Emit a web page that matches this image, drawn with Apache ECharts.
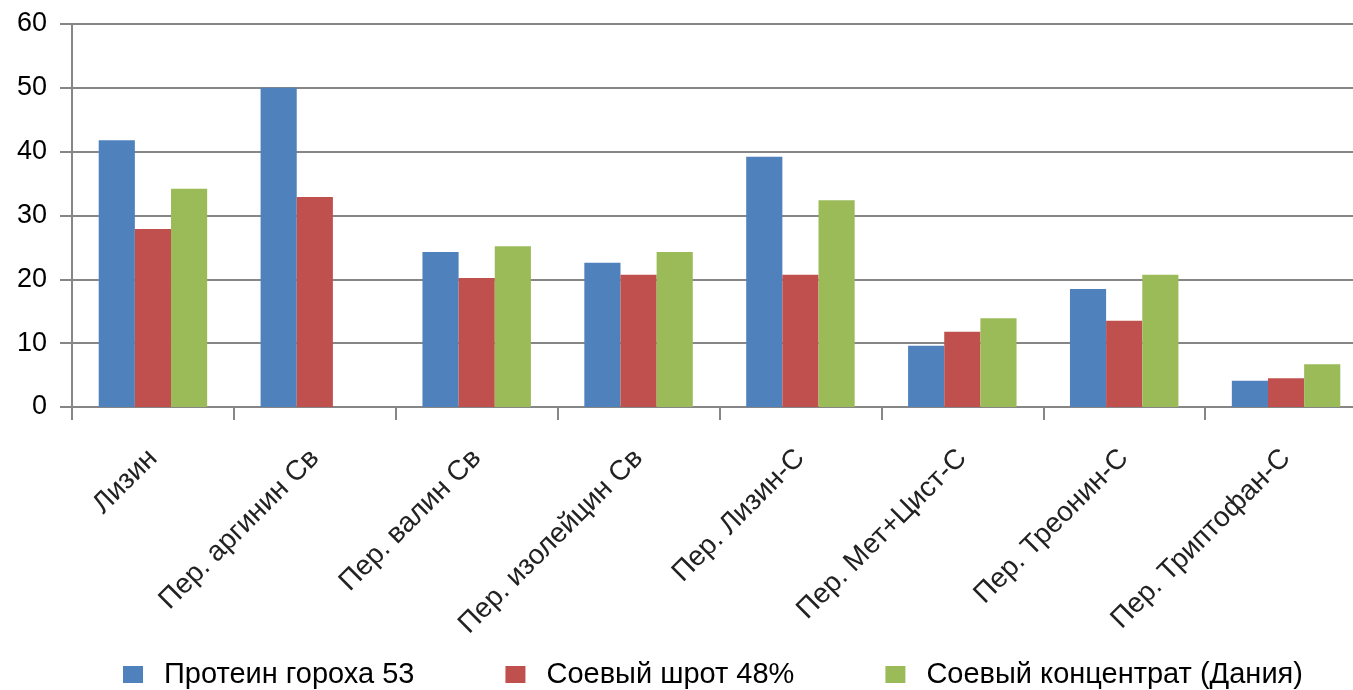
<!DOCTYPE html>
<html>
<head>
<meta charset="utf-8">
<script src="https://cdn.jsdelivr.net/npm/echarts@6/dist/echarts.min.js"></script>
<style>
  html, body { margin: 0; padding: 0; background: #fff; }
  #chart { width: 1353px; height: 690px; }
</style>
</head>
<body>
<div id="chart"></div>
<script>
// Amino acid digestibility by protein source
const categories = ['Лизин', 'Пер. аргинин Св', 'Пер. валин Св', 'Пер. изолейцин Св',
                    'Пер. Лизин-С', 'Пер. Мет+Цист-С', 'Пер. Треонин-С', 'Пер. Триптофан-С'];
const peaProtein  = [41.8, 50.0, 24.3, 22.6, 39.2, 9.6, 18.5, 4.1];
const soyMeal     = [27.9, 32.9, 20.2, 20.7, 20.7, 11.8, 13.5, 4.5];
const soyConc     = [34.2, null, 25.2, 24.3, 32.4, 13.9, 20.7, 6.7];
const seriesNames = ['Протеин гороха 53', 'Соевый шрот 48%', 'Соевый концентрат (Дания)'];
const yTicks = { min: 0, max: 60, interval: 10 };

const colors = ['#4F81BD', '#C0504D', '#9BBB59'];
const axisGray = '#868686';
const font = '"Liberation Sans", Arial, sans-serif';

const chart = echarts.init(document.getElementById('chart'));
chart.setOption({
  animation: false,
  color: colors,
  // the plot runs a little past the right edge of the canvas
  grid: { left: 72, top: 24, width: 1295, bottom: 283, containLabel: false, outerBoundsMode: 'none' },
  legend: {
    left: 118, top: 655,
    itemWidth: 20, itemHeight: 17, itemGap: 91,
    icon: 'rect',
    textStyle: { fontFamily: font, fontSize: 29, color: '#000', padding: [0, 0, 0, 16] },
    data: seriesNames
  },
  xAxis: {
    type: 'category',
    data: categories,
    axisLine: { lineStyle: { color: axisGray, width: 2 } },
    axisTick: { show: true, length: 13, lineStyle: { color: axisGray, width: 2 } },
    axisLabel: {
      rotate: 45, interval: 0, margin: 47,
      fontFamily: font, fontSize: 28, color: '#222'
    }
  },
  yAxis: {
    type: 'value',
    min: yTicks.min, max: yTicks.max, interval: yTicks.interval,
    axisLine: { show: true, lineStyle: { color: axisGray, width: 2 } },
    axisTick: { show: true, length: 12, lineStyle: { color: axisGray, width: 2 } },
    splitLine: { lineStyle: { color: axisGray, width: 2 } },
    axisLabel: { margin: 25, fontFamily: font, fontSize: 27, color: '#000' }
  },
  series: [
    { name: seriesNames[0], type: 'bar', data: peaProtein, barGap: 0, barCategoryGap: '33%' },
    { name: seriesNames[1], type: 'bar', data: soyMeal, barGap: 0, barCategoryGap: '33%' },
    { name: seriesNames[2], type: 'bar', data: soyConc, barGap: 0, barCategoryGap: '33%' }
  ]
});
</script>
</body>
</html>
